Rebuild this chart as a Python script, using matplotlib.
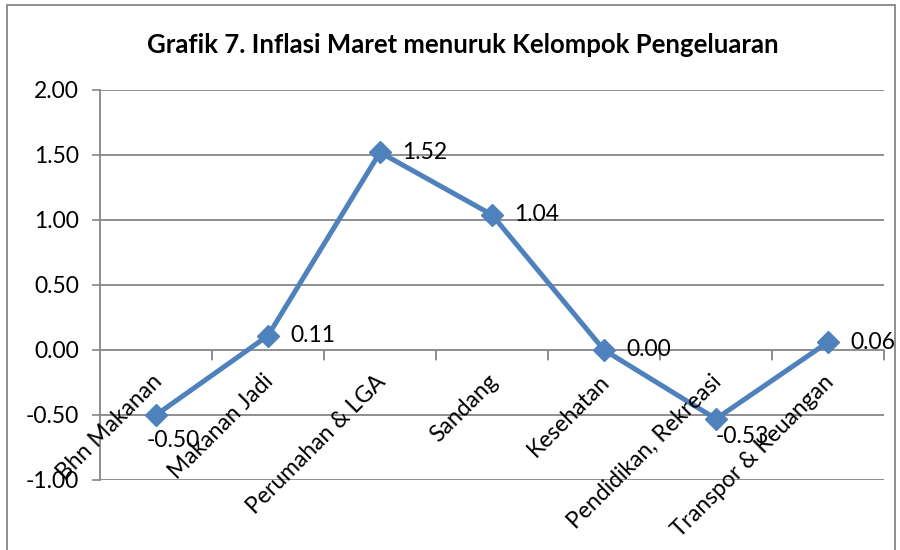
import matplotlib.pyplot as plt
from matplotlib.patches import Rectangle

plt.rcParams['font.family'] = ['Lato', 'DejaVu Sans']

kelompok = ["Bhn Makanan", "Makanan Jadi", "Perumahan & LGA", "Sandang",
            "Kesehatan", "Pendidikan, Rekreasi", "Transpor & Keuangan"]
inflasi = [-0.50, 0.11, 1.52, 1.04, 0.00, -0.53, 0.06]
yticks = [-1.0, -0.5, 0.0, 0.5, 1.0, 1.5, 2.0]

blue = "#4F81BD"
grey = "#868686"
fs = 16.5

fig = plt.figure(figsize=(9, 5.5), dpi=100)
ax = fig.add_axes([0.1111, 0.1273, 0.8711, 0.7091])

x = list(range(len(kelompok)))
ax.plot(x, inflasi, color=blue, lw=3.6, marker="D", markersize=11, zorder=3)

ax.set_xlim(-0.5, len(kelompok) - 0.5)
ax.set_ylim(-1.0, 2.0)
ax.set_yticks(yticks)
ax.set_yticklabels(["%.2f" % v for v in yticks], fontsize=fs)
ax.tick_params(axis="y", length=6, color=grey, width=1.2, pad=9)
ax.set_xticks([])
for t in yticks:
    ax.axhline(t, color=grey, lw=1.3, zorder=1)

for s in ["top", "right", "bottom"]:
    ax.spines[s].set_visible(False)
ax.spines["left"].set_color(grey)
ax.spines["left"].set_linewidth(1.3)

# category ticks hanging down from the zero line
for i in range(len(kelompok)):
    ax.annotate("", xy=(i + 0.5, 0), xytext=(0, -7), textcoords="offset points",
                arrowprops=dict(arrowstyle="-", color=grey, lw=1.3,
                                shrinkA=0, shrinkB=0))

# category labels rotated along the zero line
for i, name in enumerate(kelompok):
    ax.annotate(name, xy=(i, 0), xytext=(7, -15), textcoords="offset points",
                ha="right", va="top", rotation=45, fontsize=fs,
                rotation_mode="default", annotation_clip=False)

# data labels
for i, v in enumerate(inflasi):
    if i == 0:
        off, ha, va = (-7, -11), "left", "top"
    elif i == 5:
        off, ha, va = (0, -5), "left", "top"
    else:
        off, ha, va = (16, 0), "left", "center"
    ax.annotate("%.2f" % v, xy=(i, v), xytext=off, textcoords="offset points",
                ha=ha, va=va, fontsize=fs, annotation_clip=False)

fig.text(0.514, 0.918, "Grafik 7. Inflasi Maret menuruk Kelompok Pengeluaran",
         ha="center", va="center", fontsize=18.5, fontweight="bold")

fig.patches.append(Rectangle((0.008, -0.05), 0.986, 1.041, transform=fig.transFigure,
                             fill=False, edgecolor=grey, lw=1.3))

fig.savefig("out.png", dpi=100)
